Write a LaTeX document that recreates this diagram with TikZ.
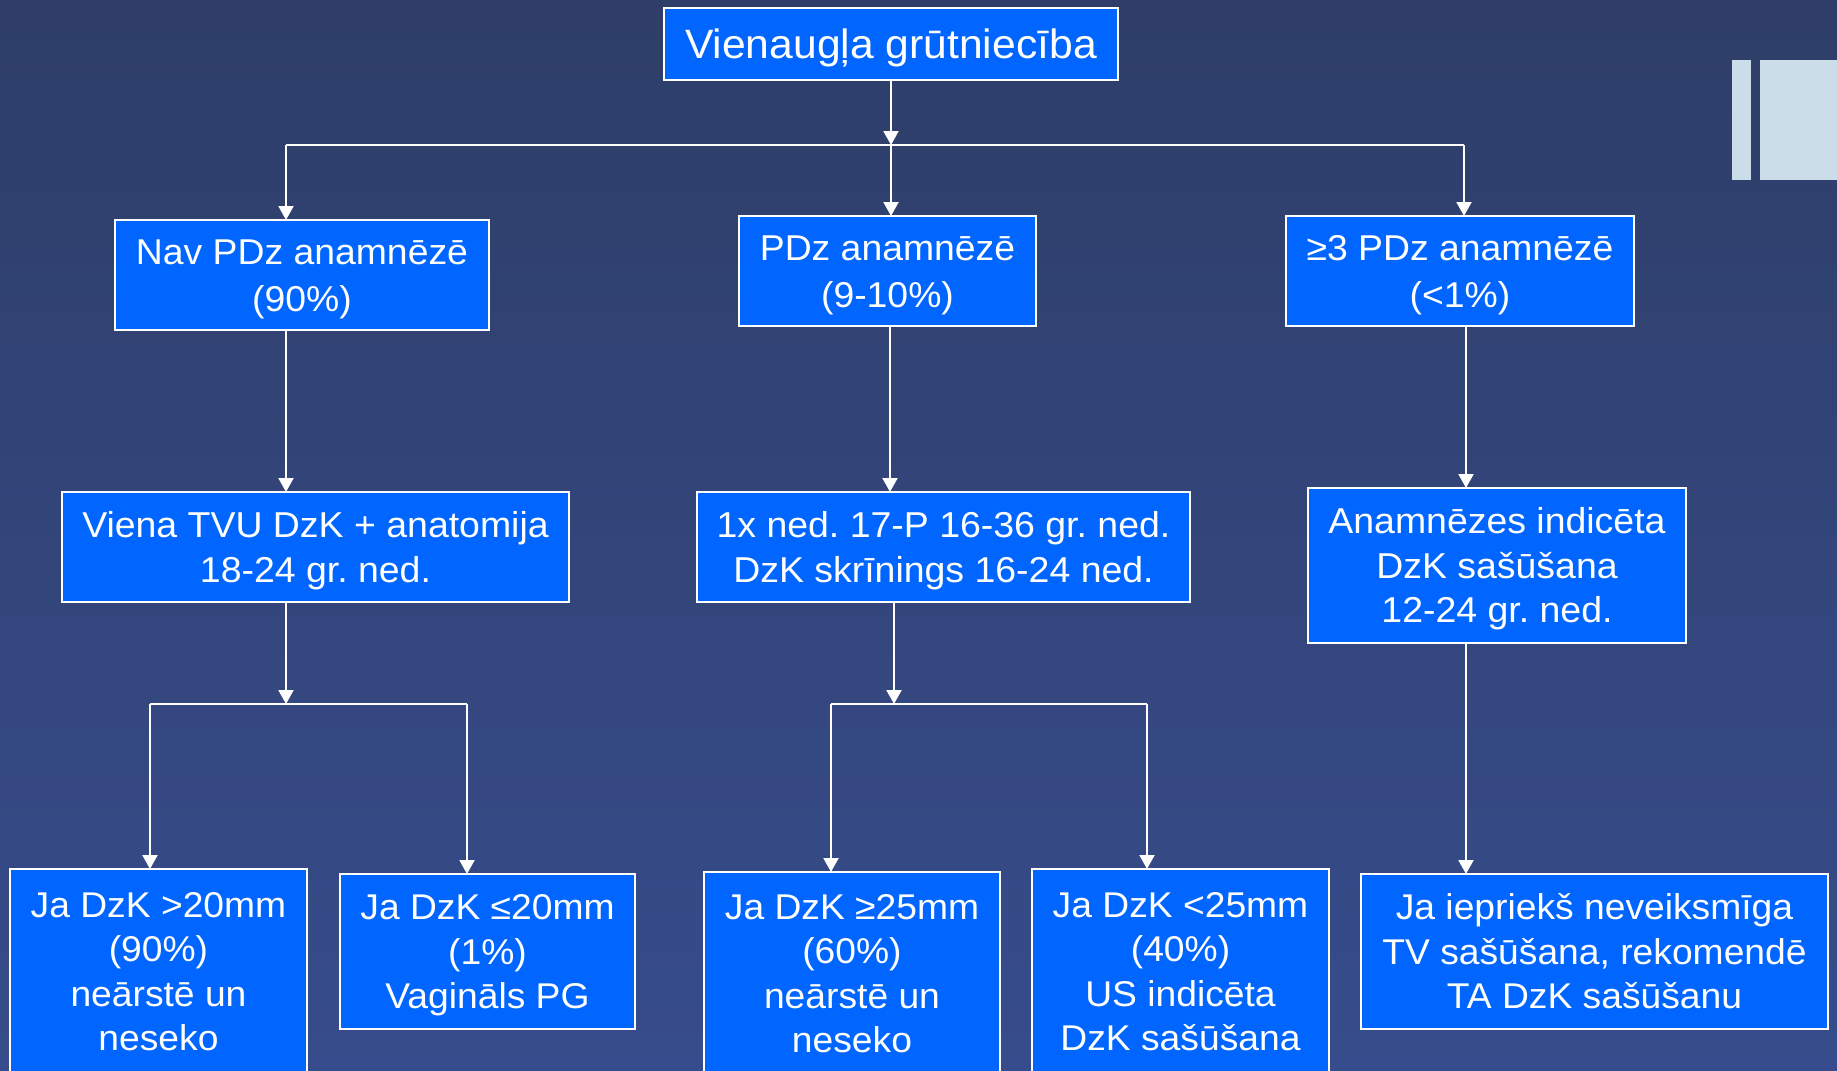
\documentclass[tikz,border=0pt]{standalone}
\usepackage{fontspec}
\setmainfont{Liberation Sans}[FakeStretch=1.04]
\usetikzlibrary{arrows.meta}
\definecolor{bgtop}{HTML}{2E3E68}
\definecolor{bgbot}{HTML}{374C8C}
\definecolor{boxblue}{HTML}{0066FF}
\definecolor{deco}{HTML}{CADDE8}
\newcommand{\tstr}{\rule{0pt}{0.95em}}
\newcommand{\bstr}{\rule[-0.23em]{0pt}{0.23em}}
\frenchspacing
\begin{document}
\begin{tikzpicture}[x=1pt,y=-1pt,
  box/.style={draw=white, line width=1.6pt, fill=boxblue, text=white, align=center, inner sep=0pt, outer sep=0pt},
  ftop/.style={font=\fontsize{41}{50}\selectfont},
  fmid/.style={font=\fontsize{35.9}{46.5}\selectfont},
  frow/.style={font=\fontsize{36}{44.5}\selectfont},
  fbot/.style={font=\fontsize{35.8}{44.5}\selectfont},
  conn/.style={draw=white, line width=2pt},
  arr/.style={conn, -{Triangle[width=15pt,length=14pt]}}]
\useasboundingbox (0,0) rectangle (1837,1071);
\clip (0,0) rectangle (1837,1071);
\shade[top color=bgtop, bottom color=bgbot] (0,0) rectangle (1837,1071);
% decoration
\fill[deco] (1732,60) rectangle (1751,180);
\fill[deco] (1760,60) rectangle (1837,180);
% nodes
\node[box, ftop, minimum width=454, minimum height=72] (top) at (891,44) {\tstr Vienaugļa grūtniecība\bstr};
\node[box, fmid, minimum width=374, minimum height=110] (nav) at (302,275) {\tstr Nav PDz anamnēzē\\(90\%)\bstr};
\node[box, fmid, minimum width=297, minimum height=110] (pdz) at (887.5,271) {\tstr PDz anamnēzē\\(9-10\%)\bstr};
\node[box, fmid, minimum width=348, minimum height=110] (ge3) at (1460,271) {\tstr ≥3 PDz anamnēzē\\(<1\%)\bstr};
\node[box, frow, minimum width=507, minimum height=110] (viena) at (315.5,547) {\tstr Viena TVU DzK + anatomija\\18-24 gr. ned.\bstr};
\node[box, frow, minimum width=493, minimum height=110] (onex) at (943.5,547) {\tstr 1x ned. 17-P 16-36 gr. ned.\\DzK skrīnings 16-24 ned.\bstr};
\node[box, frow, minimum width=378, minimum height=155] (anam) at (1497,565.5) {\tstr Anamnēzes indicēta\\DzK sašūšana\\12-24 gr. ned.\bstr};
\node[box, fbot, minimum width=297, minimum height=204] (b1) at (158.5,971) {\tstr Ja DzK >20mm\\(90\%)\\neārstē un\\neseko\bstr};
\node[box, fbot, minimum width=295, minimum height=155] (b2) at (487.5,951.5) {\tstr Ja DzK ≤20mm\\(1\%)\\Vagināls PG\bstr};
\node[box, fbot, minimum width=296, minimum height=202] (b3) at (852,973) {\tstr Ja DzK ≥25mm\\(60\%)\\neārstē un\\neseko\bstr};
\node[box, fbot, minimum width=297, minimum height=204] (b4) at (1180.5,971) {\tstr Ja DzK <25mm\\(40\%)\\US indicēta\\DzK sašūšana\bstr};
\node[box, fbot, minimum width=467, minimum height=155] (b5) at (1594.5,951.5) {\tstr Ja iepriekš neveiksmīga\\TV sašūšana, rekomendē\\TA DzK sašūšanu\bstr};
% junction coordinates
\coordinate (j0) at (891,145);
\coordinate (jl) at (286,145);
\coordinate (jr) at (1464,145);
\coordinate (k1) at (286,704);
\coordinate (k1l) at (150,704);
\coordinate (k1r) at (467,704);
\coordinate (k2) at (894,704);
\coordinate (k2l) at (831,704);
\coordinate (k2r) at (1147,704);
\coordinate (xr) at (1466,0);
\coordinate (xm) at (890,0);
% connectors
\draw[arr] (top.south -| j0) -- (j0);
\draw[conn] (jl) -- (jr);
\draw[arr] (jl) -- (jl |- nav.north);
\draw[arr] (j0) -- (j0 |- pdz.north);
\draw[arr] (jr) -- (jr |- ge3.north);
\draw[arr] (nav.south -| jl) -- (viena.north -| jl);
\draw[arr] (pdz.south -| xm) -- (onex.north -| xm);
\draw[arr] (ge3.south -| xr) -- (anam.north -| xr);
\draw[arr] (viena.south -| k1) -- (k1);
\draw[conn] (k1l) -- (k1r);
\draw[arr] (k1l) -- (k1l |- b1.north);
\draw[arr] (k1r) -- (k1r |- b2.north);
\draw[arr] (onex.south -| k2) -- (k2);
\draw[conn] (k2l) -- (k2r);
\draw[arr] (k2l) -- (k2l |- b3.north);
\draw[arr] (k2r) -- (k2r |- b4.north);
\draw[arr] (anam.south -| xr) -- (b5.north -| xr);
\end{tikzpicture}
\end{document}
